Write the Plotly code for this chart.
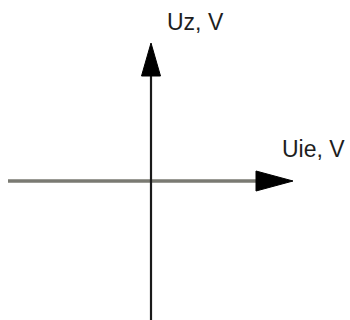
import plotly.graph_objects as go

# Axis geometry in diagram units (origin at the crossing point)
x_axis_x = [-143, 106]
x_axis_y = [0, 0]
y_axis_x = [0, 0]
y_axis_y = [-139, 105]

x_arrow_x = [105, 142, 105, 105]
x_arrow_y = [-10, 0, 10, -10]
y_arrow_x = [-9.5, 0, 9.5, -9.5]
y_arrow_y = [105, 138, 105, 105]

labels = ["Uz, V", "Uie, V"]
label_x = [14, 129]
label_y = [159, 32]

fig = go.Figure()
fig.add_trace(go.Scatter(x=x_axis_x, y=x_axis_y, mode="lines",
                         line=dict(color="#7a7a72", width=3.5), hoverinfo="skip"))
fig.add_trace(go.Scatter(x=y_axis_x, y=y_axis_y, mode="lines",
                         line=dict(color="#1a1a1a", width=2.2), hoverinfo="skip"))
fig.add_trace(go.Scatter(x=x_arrow_x, y=x_arrow_y, mode="lines", fill="toself",
                         fillcolor="#000000", line=dict(color="#000000", width=1), hoverinfo="skip"))
fig.add_trace(go.Scatter(x=y_arrow_x, y=y_arrow_y, mode="lines", fill="toself",
                         fillcolor="#000000", line=dict(color="#000000", width=1), hoverinfo="skip"))

for t, lx, ly in zip(labels, label_x, label_y):
    fig.add_annotation(x=lx, y=ly, text=t, showarrow=False, xanchor="left", yanchor="middle",
                       font=dict(family="Liberation Sans, Arial, sans-serif", size=23, color="#1e1e1e"))

fig.update_layout(
    width=350, height=320, margin=dict(l=0, r=0, t=0, b=0),
    paper_bgcolor="white", plot_bgcolor="white", showlegend=False,
    xaxis=dict(range=[-151, 199], visible=False, fixedrange=True),
    yaxis=dict(range=[-139, 181], visible=False, fixedrange=True),
)
fig.write_html("out.html", config={"displayModeBar": False},
               post_script="document.body.style.margin='0';document.body.style.overflow='hidden';")
